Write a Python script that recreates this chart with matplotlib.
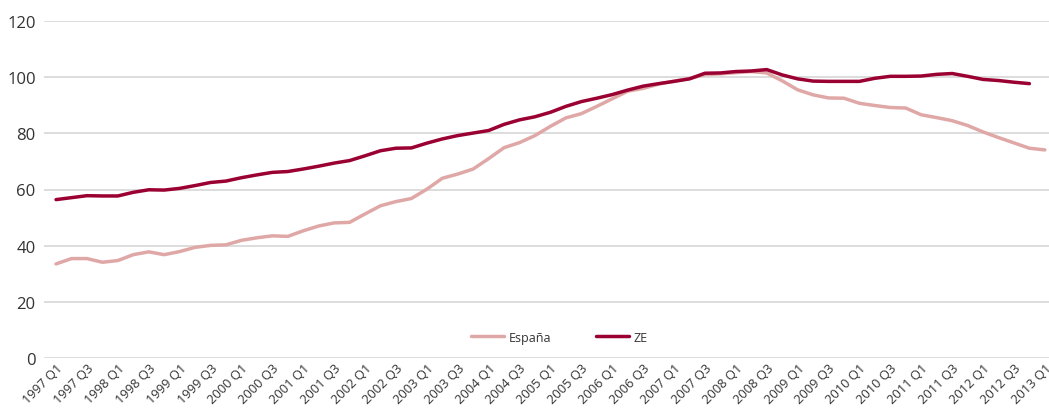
import matplotlib.pyplot as plt

# quarters 1997 Q1 .. 2013 Q1
quarters = ["%d Q%d" % (y, q) for y in range(1997, 2014) for q in (1, 2, 3, 4)][:65]

espana = [33.5, 35.4, 35.4, 34.1, 34.7, 36.8, 37.8, 36.8, 37.9, 39.4,
          40.1, 40.3, 41.9, 42.8, 43.5, 43.3, 45.3, 47.0, 48.1, 48.3,
          51.3, 54.2, 55.7, 56.8, 60.1, 64.0, 65.5, 67.3, 71.0, 74.9,
          76.7, 79.2, 82.5, 85.5, 87.0, 89.6, 92.3, 95.0, 96.0, 97.5,
          98.6, 99.5, 100.9, 101.2, 101.6, 102.0, 101.5, 98.7, 95.5, 93.7,
          92.6, 92.5, 90.7, 89.9, 89.2, 89.0, 86.6, 85.6, 84.5, 82.8,
          80.5, 78.5, 76.6, 74.7, 74.1]

ze = [56.4, 57.1, 57.8, 57.7, 57.7, 59.0, 59.9, 59.8, 60.4, 61.4,
      62.5, 63.0, 64.2, 65.2, 66.1, 66.4, 67.3, 68.3, 69.4, 70.3,
      72.0, 73.8, 74.7, 74.8, 76.5, 78.0, 79.2, 80.1, 81.0, 83.2,
      84.8, 85.9, 87.5, 89.6, 91.3, 92.5, 93.8, 95.4, 96.8, 97.7,
      98.5, 99.4, 101.4, 101.5, 102.0, 102.2, 102.7, 100.8, 99.4, 98.6,
      98.5, 98.5, 98.5, 99.6, 100.3, 100.3, 100.4, 101.0, 101.3, 100.3,
      99.2, 98.8, 98.2, 97.7]

plt.rcParams['font.family'] = ['Open Sans', 'DejaVu Sans']

fig = plt.figure(figsize=(10.49, 4.10), dpi=100)
ax = fig.add_axes([44 / 1049, 1 - 359 / 410, 1 - 44 / 1049, 337 / 410])

ax.plot(range(len(espana)), espana, color='#dfa8a6', lw=2.5, label='España',
        solid_joinstyle='round', solid_capstyle='round', zorder=3)
ax.plot(range(len(ze)), ze, color='#9b0032', lw=2.5, label='ZE',
        solid_joinstyle='round', solid_capstyle='round', zorder=4)

ax.set_ylim(0, 120)
ax.set_yticks(range(0, 121, 20))
ax.set_xlim(-0.78, 64.27)
ax.set_xticks(range(0, 65, 2))
ax.set_xticklabels(quarters[::2], rotation=45, ha='right',
                   rotation_mode='anchor', fontsize=9.3, color='#333333')
ax.tick_params(axis='y', labelsize=12, colors='#333333', length=0, pad=6)
ax.tick_params(axis='x', length=0, pad=2)

ax.grid(axis='y', color='#d3d3d3', lw=1.1)
ax.set_axisbelow(True)
for s in ax.spines.values():
    s.set_visible(False)

ax.legend(loc='center', bbox_to_anchor=(0.513, 0.062), ncol=2, frameon=False,
          fontsize=9, handlelength=2.6, columnspacing=3.6, handletextpad=0.4,
          labelcolor='#333333')

fig.savefig('out.png', dpi=100)
